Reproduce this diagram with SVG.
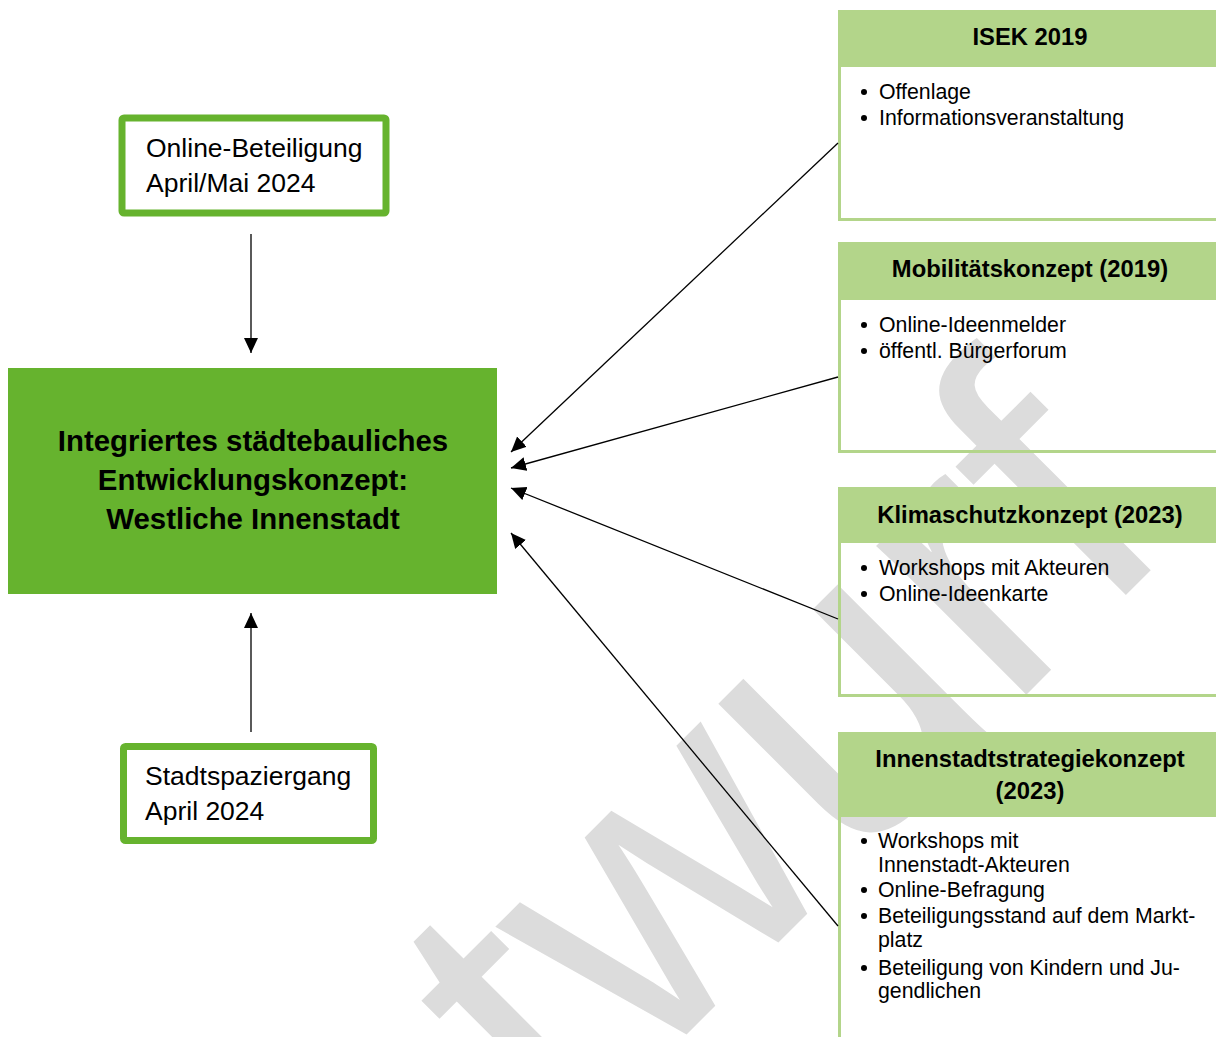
<svg xmlns="http://www.w3.org/2000/svg" width="1216" height="1037" viewBox="0 0 1216 1037">
<style>
.wm{font-family:"Liberation Sans",Arial,sans-serif;font-size:400px;fill:#dcdcdc}
.main{font-family:"Liberation Sans",Arial,sans-serif;font-weight:bold;font-size:29.4px;fill:#000;text-anchor:middle}
.src{fill:#fff;stroke:#66b32e;stroke-width:7}
.srct{font-family:"Liberation Sans",Arial,sans-serif;font-size:26.5px;fill:#000}
.card{fill:none;stroke:#b3d58a;stroke-width:3}
.head{fill:#b3d58a}
.ht{font-family:"Liberation Sans",Arial,sans-serif;font-weight:bold;font-size:23.8px;fill:#000;text-anchor:middle}
.bt{font-family:"Liberation Sans",Arial,sans-serif;font-size:21.3px;fill:#000}
.dot{fill:#000}
.conn line{stroke:#000;stroke-width:1.3;marker-end:url(#ah)}
</style>
<defs>
<marker id="ah" markerUnits="userSpaceOnUse" markerWidth="16" markerHeight="15" refX="15" refY="7" orient="auto">
<path d="M0,0 L15,7 L0,14 z" fill="#000"/>
</marker>
</defs>
<rect width="1216" height="1037" fill="#fff"/>
<text class="wm" transform="translate(220.6,1500.4) rotate(-45)">Entwurf</text>

<g id="main">
<rect x="8" y="368" width="489" height="226" fill="#66b32e"/>
<text class="main" x="253" y="451">Integriertes städtebauliches</text>
<text class="main" x="253" y="490">Entwicklungskonzept:</text>
<text class="main" x="253" y="529">Westliche Innenstadt</text>
</g>

<g id="online">
<rect class="src" x="122" y="118" width="264" height="95" rx="2"/>
<text class="srct" x="146" y="157">Online-Beteiligung</text>
<text class="srct" x="146" y="192">April/Mai 2024</text>
</g>

<g id="stadt">
<rect class="src" x="123.5" y="746.5" width="250" height="94" rx="2"/>
<text class="srct" x="145" y="785">Stadtspaziergang</text>
<text class="srct" x="145" y="820">April 2024</text>
</g>

<g id="isek">
<rect class="head" x="838" y="10" width="380" height="57"/>
<rect class="card" x="839.5" y="11.5" width="380" height="208"/>
<text class="ht" x="1030" y="45">ISEK 2019</text>
<circle class="dot" cx="864" cy="92" r="3"/>
<text class="bt" x="879" y="99">Offenlage</text>
<circle class="dot" cx="864" cy="118" r="3"/>
<text class="bt" x="879" y="125">Informationsveranstaltung</text>
</g>

<g id="mobil">
<rect class="head" x="838" y="242" width="380" height="58"/>
<rect class="card" x="839.5" y="243.5" width="380" height="208"/>
<text class="ht" x="1030" y="277">Mobilitätskonzept (2019)</text>
<circle class="dot" cx="864" cy="325" r="3"/>
<text class="bt" x="879" y="332">Online-Ideenmelder</text>
<circle class="dot" cx="864" cy="351" r="3"/>
<text class="bt" x="879" y="358">öffentl. Bürgerforum</text>
</g>

<g id="klima">
<rect class="head" x="838" y="487" width="380" height="56"/>
<rect class="card" x="839.5" y="488.5" width="380" height="207"/>
<text class="ht" x="1030" y="523">Klimaschutzkonzept (2023)</text>
<circle class="dot" cx="864" cy="568" r="3"/>
<text class="bt" x="879" y="575">Workshops mit Akteuren</text>
<circle class="dot" cx="864" cy="594" r="3"/>
<text class="bt" x="879" y="601">Online-Ideenkarte</text>
</g>

<g id="innen">
<rect class="head" x="838" y="732" width="380" height="85"/>
<rect class="card" x="839.5" y="733.5" width="380" height="320"/>
<text class="ht" x="1030" y="767">Innenstadtstrategiekonzept</text>
<text class="ht" x="1030" y="799">(2023)</text>
<circle class="dot" cx="864" cy="841" r="3"/>
<text class="bt" x="878" y="848">Workshops mit</text>
<text class="bt" x="878" y="872">Innenstadt-Akteuren</text>
<circle class="dot" cx="864" cy="890" r="3"/>
<text class="bt" x="878" y="897">Online-Befragung</text>
<circle class="dot" cx="864" cy="916" r="3"/>
<text class="bt" x="878" y="923">Beteiligungsstand auf dem Markt-</text>
<text class="bt" x="878" y="947">platz</text>
<circle class="dot" cx="864" cy="968" r="3"/>
<text class="bt" x="878" y="975">Beteiligung von Kindern und Ju-</text>
<text class="bt" x="878" y="998">gendlichen</text>
</g>

<g id="connectors" class="conn">
<line x1="251" y1="234" x2="251" y2="353"/>
<line x1="251" y1="732" x2="251" y2="613"/>
<line x1="838" y1="143" x2="511" y2="452"/>
<line x1="838" y1="377" x2="511" y2="468"/>
<line x1="838" y1="619" x2="511" y2="488"/>
<line x1="838" y1="926" x2="511" y2="533"/>
</g>
</svg>
